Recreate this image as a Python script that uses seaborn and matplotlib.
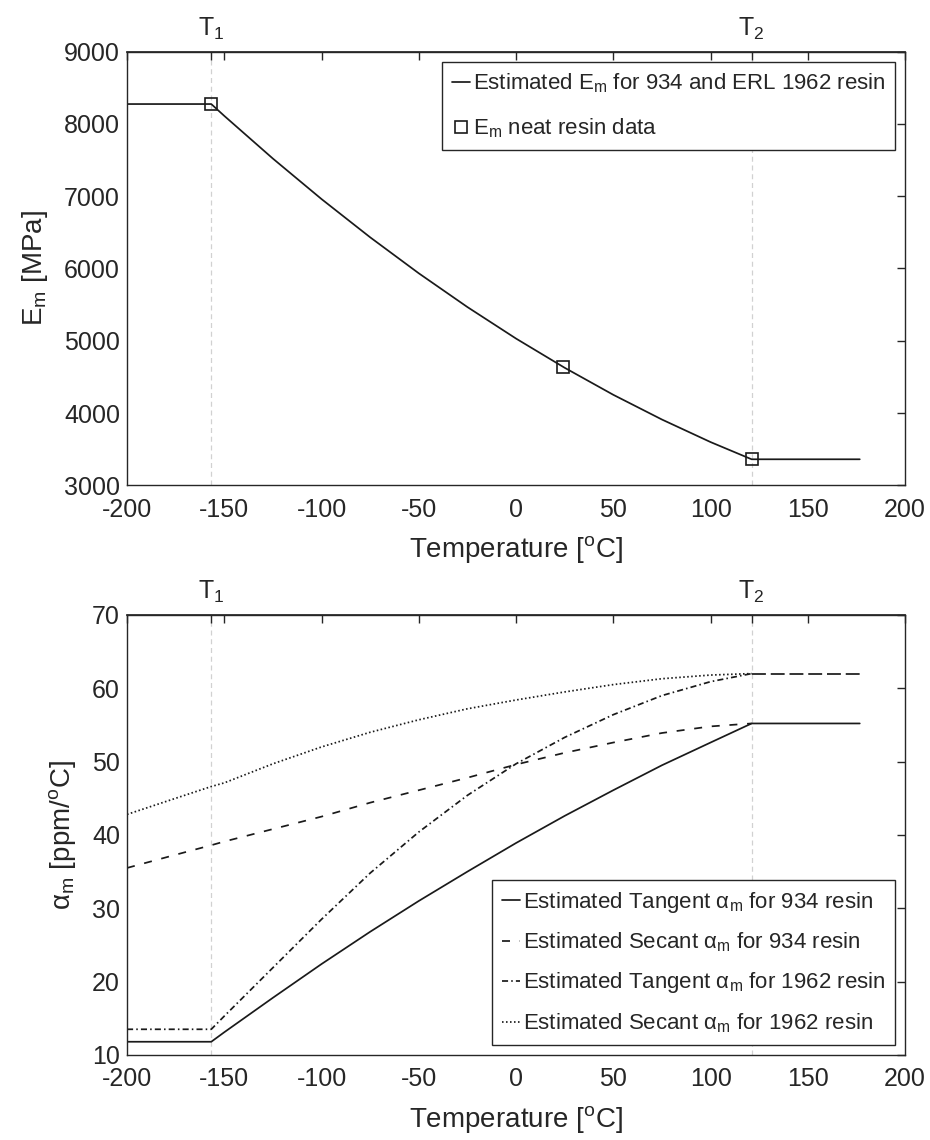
import matplotlib
matplotlib.use("Agg")
import matplotlib.pyplot as plt
import seaborn as sns
import numpy as np

# ---------------- data ----------------
T1 = -156.7
T2 = 121.1

# top panel: estimated modulus curve
temp_E = [-200, -156.7, -150, -125, -100, -75, -50, -25, 0, 25, 50, 75, 100, 121.1, 176.7]
E_est = [8275, 8275, 8111, 7520, 6960, 6431, 5933, 5466, 5030, 4626, 4252, 3910, 3598, 3360, 3360]
neat_T = [-156.7, 23.9, 121.1]
neat_E = [8275, 4643, 3360]

# bottom panel: CTE curves
temp_a = [-200, -175, -156.7, -150, -125, -100, -75, -50, -25, 0, 25, 50, 75, 100, 121.1]
tan934 = [11.8, 11.8, 11.8, 13.1, 17.8, 22.4, 26.8, 31.0, 35.0, 38.9, 42.6, 46.1, 49.5, 52.6, 55.2]
sec934 = [35.5, 37.3, 38.6, 39.1, 40.8, 42.5, 44.4, 46.1, 47.8, 49.6, 51.2, 52.6, 53.9, 54.8, 55.2]
tan1962 = [13.5, 13.5, 13.5, 15.3, 21.9, 28.5, 34.8, 40.4, 45.4, 49.7, 53.3, 56.4, 59.0, 60.9, 62.0]
sec1962 = [42.8, 45.0, 46.6, 47.1, 49.7, 52.0, 54.0, 55.7, 57.2, 58.4, 59.5, 60.5, 61.3, 61.8, 62.0]
temp_flat = [121.1, 176.7]
tan934_flat = [55.2, 55.2]
tan1962_flat = [62.0, 62.0]

xticks = [-200, -150, -100, -50, 0, 50, 100, 150, 200]
yticks_E = [3000, 4000, 5000, 6000, 7000, 8000, 9000]
yticks_a = [10, 20, 30, 40, 50, 60, 70]

# ---------------- style ----------------
sns.set_theme(style="white")
plt.rcParams['font.family'] = ['Liberation Sans', 'DejaVu Sans']
plt.rcParams['mathtext.fontset'] = 'custom'
plt.rcParams['mathtext.rm'] = 'Liberation Sans'
plt.rcParams['mathtext.it'] = 'Liberation Sans:italic'
plt.rcParams['mathtext.default'] = 'regular'

INK = '#262626'
LW = 1.25
TICK_FS = 18
LABEL_FS = 20
LEG_FS = 16

fig = plt.figure(figsize=(9.3, 11.4), dpi=100)
ax1 = fig.add_axes([0.1366, 0.5743, 0.8366, 0.3804])
ax2 = fig.add_axes([0.1366, 0.0746, 0.8366, 0.3860])


def style_axes(ax, yticks, ylim):
    ax.set_xlim(-200, 200)
    ax.set_ylim(*ylim)
    ax.set_xticks(xticks)
    ax.set_xticklabels([str(v) for v in xticks])
    ax.set_yticks(yticks)
    ax.set_yticklabels([str(v) for v in yticks])
    for s in ax.spines.values():
        s.set_visible(True)
        s.set_color(INK)
        s.set_linewidth(1.0)
    ax.tick_params(axis='both', which='both', direction='in', length=6, width=1.0,
                   colors=INK, labelsize=TICK_FS, top=True, right=True,
                   labeltop=False, labelright=False)
    ax.tick_params(axis='x', pad=9)
    ax.tick_params(axis='y', pad=5)
    ax.axvline(T1, color='0.82', lw=0.9, ls=(0, (4, 3)), zorder=0)
    ax.axvline(T2, color='0.82', lw=0.9, ls=(0, (4, 3)), zorder=0)
    sec = ax.secondary_xaxis('top')
    sec.set_xticks([T1, T2])
    sec.set_xticklabels(['T$_1$', 'T$_2$'])
    sec.tick_params(direction='in', length=6, width=1.0, colors=INK,
                    labelsize=TICK_FS, pad=7)
    sec.spines['top'].set_color(INK)
    ax.set_xlabel('Temperature [$^o$C]', fontsize=LABEL_FS, color=INK, labelpad=9)


def make_legend(ax, handles, labels, loc, spacing):
    leg = ax.legend(handles, labels, loc=loc, fontsize=LEG_FS, frameon=True,
                    fancybox=False, edgecolor=INK, framealpha=1, handlelength=0.8,
                    handletextpad=0.12, borderpad=0.45, labelspacing=spacing,
                    borderaxespad=0.45)
    leg.get_frame().set_linewidth(1.0)
    return leg


# ---------------- top panel ----------------
sns.lineplot(x=temp_E, y=E_est, ax=ax1, color='k', lw=LW, sort=False,
             label='Estimated E$_m$ for 934 and ERL 1962 resin')
sns.lineplot(x=neat_T, y=neat_E, ax=ax1, color='k', linestyle='none', marker='s',
             markersize=8, markerfacecolor='none', markeredgecolor='k',
             markeredgewidth=1.2, sort=False, label='E$_m$ neat resin data')
style_axes(ax1, yticks_E, (3000, 9000))
ax1.set_ylabel('E$_m$ [MPa]', fontsize=LABEL_FS, color=INK, labelpad=10)
h1, lab1 = ax1.get_legend_handles_labels()
make_legend(ax1, h1, lab1, 'upper right', 0.95)

# ---------------- bottom panel ----------------
dash = (0, (4.6, 5.6))
dashdot = (0, (3.5, 1.8, 0.9, 1.8))
dot = (0, (0.9, 1.4))
longdash = (0, (8.0, 2.8))

sns.lineplot(x=temp_a + temp_flat[1:], y=tan934 + tan934_flat[1:], ax=ax2,
             color='k', lw=LW, sort=False,
             label=r'Estimated Tangent $\alpha_m$ for 934 resin')
sns.lineplot(x=temp_a, y=sec934, ax=ax2, color='k', lw=LW, linestyle=dash, sort=False,
             label=r'Estimated Secant $\alpha_m$ for 934 resin')
sns.lineplot(x=temp_a, y=tan1962, ax=ax2, color='k', lw=LW, linestyle=dashdot, sort=False,
             label=r'Estimated Tangent $\alpha_m$ for 1962 resin')
sns.lineplot(x=temp_a, y=sec1962, ax=ax2, color='k', lw=LW, linestyle=dot, sort=False,
             label=r'Estimated Secant $\alpha_m$ for 1962 resin')
sns.lineplot(x=temp_flat, y=tan1962_flat, ax=ax2, color='k', lw=LW, linestyle=longdash,
             sort=False)
style_axes(ax2, yticks_a, (10, 70))
ax2.set_ylabel(r'$\alpha_m$ [ppm/$^o$C]', fontsize=LABEL_FS, color=INK, labelpad=10)
h2, lab2 = ax2.get_legend_handles_labels()
make_legend(ax2, h2[:4], lab2[:4], 'lower right', 0.72)

fig.savefig('out.png', dpi=100)
